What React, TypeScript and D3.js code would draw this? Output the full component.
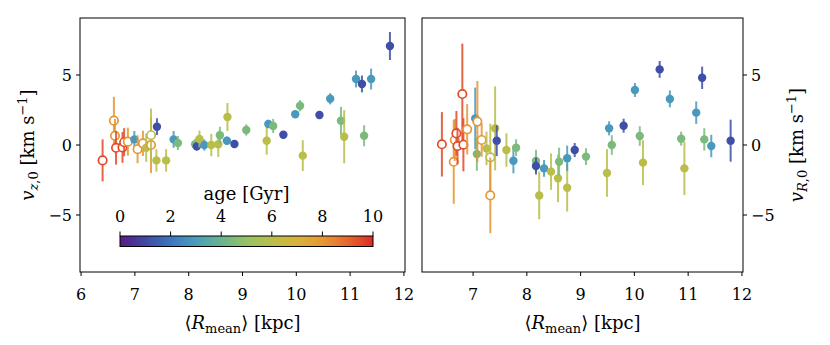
import React from 'react';
import * as d3 from 'd3';

// rows: [R_mean kpc, velocity km/s, error, age Gyr, open marker (1) or filled (0)]
const vzPoints: number[][] = [
  [6.40, -1.1, 1.5, 9.5, 1],
  [6.61, 1.74, 1.7, 8.0, 1],
  [6.63, 0.66, 1.2, 8.0, 1],
  [6.65, -0.2, 1.2, 9.5, 1],
  [6.77, -0.17, 1.1, 9.5, 1],
  [6.80, 0.2, 1.0, 9.5, 1],
  [6.87, 0.24, 1.0, 8.0, 1],
  [6.99, 0.4, 0.6, 2.9, 0],
  [7.05, -0.3, 1.0, 8.0, 1],
  [7.15, 0.12, 0.9, 8.0, 1],
  [7.21, -0.2, 1.0, 6.0, 0],
  [7.30, 0.0, 2.0, 8.0, 1],
  [7.30, 0.7, 1.9, 6.0, 1],
  [7.41, 1.31, 0.6, 1.1, 0],
  [7.40, -1.1, 0.8, 6.0, 0],
  [7.58, -1.1, 0.8, 6.0, 0],
  [7.72, 0.4, 0.6, 2.9, 0],
  [7.80, 0.14, 0.5, 4.4, 0],
  [8.12, 0.05, 0.4, 4.4, 0],
  [8.15, -0.1, 0.3, 1.1, 0],
  [8.20, 0.43, 0.6, 6.0, 0],
  [8.29, 0.0, 0.4, 2.9, 0],
  [8.42, 0.0, 0.8, 6.0, 0],
  [8.55, 0.05, 0.9, 6.0, 0],
  [8.58, 0.7, 0.6, 4.4, 0],
  [8.71, 0.3, 0.3, 2.9, 0],
  [8.72, 2.0, 1.0, 6.0, 0],
  [8.85, 0.07, 0.2, 1.1, 0],
  [9.07, 1.07, 0.4, 4.4, 0],
  [9.45, 0.31, 1.0, 6.0, 0],
  [9.48, 1.5, 0.3, 2.9, 0],
  [9.57, 1.36, 0.5, 4.4, 0],
  [9.76, 0.73, 0.15, 1.1, 0],
  [9.98, 2.2, 0.2, 2.9, 0],
  [10.07, 2.8, 0.4, 4.4, 0],
  [10.12, -0.76, 1.1, 6.0, 0],
  [10.43, 2.14, 0.15, 1.1, 0],
  [10.63, 3.3, 0.4, 2.9, 0],
  [10.83, 1.73, 1.0, 4.4, 0],
  [10.89, 0.59, 1.9, 6.0, 0],
  [11.11, 4.71, 0.6, 2.9, 0],
  [11.22, 4.36, 0.6, 1.1, 0],
  [11.26, 0.66, 0.75, 4.4, 0],
  [11.39, 4.71, 0.75, 2.9, 0],
  [11.74, 7.07, 1.0, 1.1, 0],
];

const vrPoints: number[][] = [
  [6.42, 0.05, 2.3, 9.5, 1],
  [6.64, -1.2, 3.0, 8.0, 1],
  [6.66, 0.36, 1.5, 8.0, 1],
  [6.69, 0.83, 1.6, 9.5, 1],
  [6.71, -0.07, 1.3, 9.5, 1],
  [6.80, 3.64, 3.6, 9.5, 1],
  [6.82, 0.02, 1.9, 9.5, 1],
  [6.89, 1.12, 1.8, 8.0, 1],
  [7.04, 1.9, 2.2, 2.9, 0],
  [7.07, -0.64, 1.2, 4.4, 0],
  [7.08, 1.67, 2.9, 8.0, 1],
  [7.16, 0.36, 1.2, 8.0, 1],
  [7.25, -0.24, 1.2, 6.0, 0],
  [7.32, -0.88, 2.4, 6.0, 1],
  [7.32, -3.6, 2.7, 8.0, 1],
  [7.41, 1.19, 3.0, 6.0, 0],
  [7.44, 0.31, 1.1, 1.1, 0],
  [7.62, -0.36, 1.2, 6.0, 0],
  [7.75, -1.12, 0.9, 2.9, 0],
  [7.80, -0.19, 0.6, 4.4, 0],
  [8.17, -1.14, 0.8, 4.4, 0],
  [8.17, -1.5, 0.6, 1.1, 0],
  [8.23, -3.6, 1.7, 6.0, 0],
  [8.32, -1.67, 0.6, 2.9, 0],
  [8.45, -1.9, 1.3, 6.0, 0],
  [8.58, -2.38, 1.7, 6.0, 0],
  [8.60, -1.19, 1.0, 4.4, 0],
  [8.75, -3.05, 1.7, 6.0, 0],
  [8.75, -0.95, 0.9, 2.9, 0],
  [8.89, -0.36, 0.5, 1.1, 0],
  [9.10, -0.83, 0.6, 4.4, 0],
  [9.49, -2.0, 1.7, 6.0, 0],
  [9.53, 1.19, 0.5, 2.9, 0],
  [9.58, 0.0, 0.7, 4.4, 0],
  [9.80, 1.38, 0.5, 1.1, 0],
  [10.01, 3.93, 0.5, 2.9, 0],
  [10.10, 0.64, 0.7, 4.4, 0],
  [10.16, -1.26, 1.6, 6.0, 0],
  [10.47, 5.4, 0.6, 1.1, 0],
  [10.66, 3.29, 0.6, 2.9, 0],
  [10.87, 0.45, 0.5, 4.4, 0],
  [10.93, -1.67, 1.9, 6.0, 0],
  [11.15, 2.31, 0.8, 2.9, 0],
  [11.26, 4.8, 0.8, 1.1, 0],
  [11.30, 0.4, 0.8, 4.4, 0],
  [11.43, -0.07, 0.8, 2.9, 0],
  [11.79, 0.31, 1.5, 1.1, 0],
];

const leftXTicks = [6, 7, 8, 9, 10, 11, 12];
const rightXTicks = [7, 8, 9, 10, 11, 12];
const yTicks = [-5, 0, 5];
const ageTicks = [0, 2, 4, 6, 8, 10];
const cmapStops = ['#5c1a86', '#3b4aa3', '#3a76bf', '#49a0c4', '#63b48e', '#9cc460',
  '#b8bf48', '#dcb43a', '#e89a34', '#e8682e', '#dc2a24'];

const FONT = 'DejaVu Serif';
const W = 830, H = 345;
const top = 18, bottom = 272;

const color = d3.scaleSequential(d3.interpolateRgbBasis(cmapStops)).domain([0, 10]);
const y = d3.scaleLinear().domain([-9.07, 9.07]).range([bottom, top]);
const xLeft = d3.scaleLinear().domain([5.98, 12.02]).range([80, 405]);
const xRight = d3.scaleLinear().domain([6.05, 12.02]).range([422, 743]);
const ageX = d3.scaleLinear().domain([0, 10]).range([120, 373]);

const minus = (v: number) => (v < 0 ? '\u2212' + Math.abs(v) : String(v));

function Points({ data, x }: { data: number[][]; x: d3.ScaleLinear<number, number> }) {
  return (
    <g>
      {data.map((d, i) => {
        const c = color(d[3]);
        const cx = x(d[0]);
        return (
          <g key={i}>
            <line x1={cx} x2={cx} y1={y(d[1] - d[2])} y2={y(d[1] + d[2])}
              stroke={c} strokeWidth={2} opacity={0.85} />
            {d[4] ? (
              <circle cx={cx} cy={y(d[1])} r={4.2} fill="white" stroke={c} strokeWidth={1.7} />
            ) : (
              <circle cx={cx} cy={y(d[1])} r={4.2} fill={c} />
            )}
          </g>
        );
      })}
    </g>
  );
}

function Panel({ x, ticks, data, side }: any) {
  const [x0, x1] = x.range();
  const yAxisX = side === 'left' ? x0 : x1;
  const dir = side === 'left' ? -1 : 1;
  return (
    <g>
      <defs>
        <clipPath id={'clip-' + side}>
          <rect x={x0} y={top} width={x1 - x0} height={bottom - top} />
        </clipPath>
      </defs>
      <g clipPath={`url(#clip-${side})`}>
        <Points data={data} x={x} />
      </g>
      <rect x={x0} y={top} width={x1 - x0} height={bottom - top} fill="none" stroke="black" strokeWidth={1} />
      {ticks.map((t: number) => (
        <g key={t}>
          <line x1={x(t)} x2={x(t)} y1={bottom} y2={bottom + 4} stroke="black" />
          <text x={x(t)} y={bottom + 28} textAnchor="middle" fontSize={16}>{t}</text>
        </g>
      ))}
      {yTicks.map(t => (
        <g key={t}>
          <line x1={yAxisX} x2={yAxisX + dir * 4} y1={y(t)} y2={y(t)} stroke="black" />
          <text x={yAxisX + dir * 8} y={y(t) + 6} textAnchor={side === 'left' ? 'end' : 'start'} fontSize={16}>
            {minus(t)}
          </text>
        </g>
      ))}
      <text x={(x0 + x1) / 2} y={bottom + 57} textAnchor="middle" fontSize={18}>
        {'\u27e8'}<tspan fontStyle="italic">R</tspan>
        <tspan fontSize={13} dy={4}>mean</tspan>
        <tspan dy={-4}>{'\u27e9 [kpc]'}</tspan>
      </text>
    </g>
  );
}

function YLabel({ cx, comp }: { cx: number; comp: string }) {
  return (
    <text transform={`translate(${cx},${(top + bottom) / 2}) rotate(-90)`} textAnchor="middle" fontSize={18}>
      <tspan fontStyle="italic">v</tspan>
      <tspan fontSize={13} dy={4}><tspan fontStyle="italic">{comp}</tspan>,0</tspan>
      <tspan dy={-4}> [km s</tspan>
      <tspan fontSize={13} dy={-7}>{'\u22121'}</tspan>
      <tspan dy={7}>]</tspan>
    </text>
  );
}

function Colorbar() {
  const [a0, a1] = ageX.range();
  const barY = 236, barH = 10.5;
  const stops = d3.range(0, 1.0001, 0.05);
  return (
    <g>
      <defs>
        <linearGradient id="agegrad" x1="0" x2="1" y1="0" y2="0">
          {stops.map(s => <stop key={s} offset={s} stopColor={color(s * 10)} />)}
        </linearGradient>
      </defs>
      <rect x={a0} y={barY} width={a1 - a0} height={barH} fill="url(#agegrad)" stroke="black" strokeWidth={1} />
      {ageTicks.map(t => (
        <g key={t}>
          <line x1={ageX(t)} x2={ageX(t)} y1={barY} y2={barY - 4.5} stroke="black" />
          <text x={ageX(t)} y={barY - 14} textAnchor="middle" fontSize={16}>{t}</text>
        </g>
      ))}
      <text x={(a0 + a1) / 2} y={barY - 36} textAnchor="middle" fontSize={18}>age [Gyr]</text>
    </g>
  );
}

export default function App() {
  return (
    <svg width={W} height={H}
      style={{ position: 'absolute', left: 0, top: 0, background: 'white', fontFamily: FONT }}>
      <Panel x={xLeft} ticks={leftXTicks} data={vzPoints} side="left" />
      <Panel x={xRight} ticks={rightXTicks} data={vrPoints} side="right" />
      <Colorbar />
      <YLabel cx={34} comp="z" />
      <YLabel cx={803} comp="R" />
    </svg>
  );
}
